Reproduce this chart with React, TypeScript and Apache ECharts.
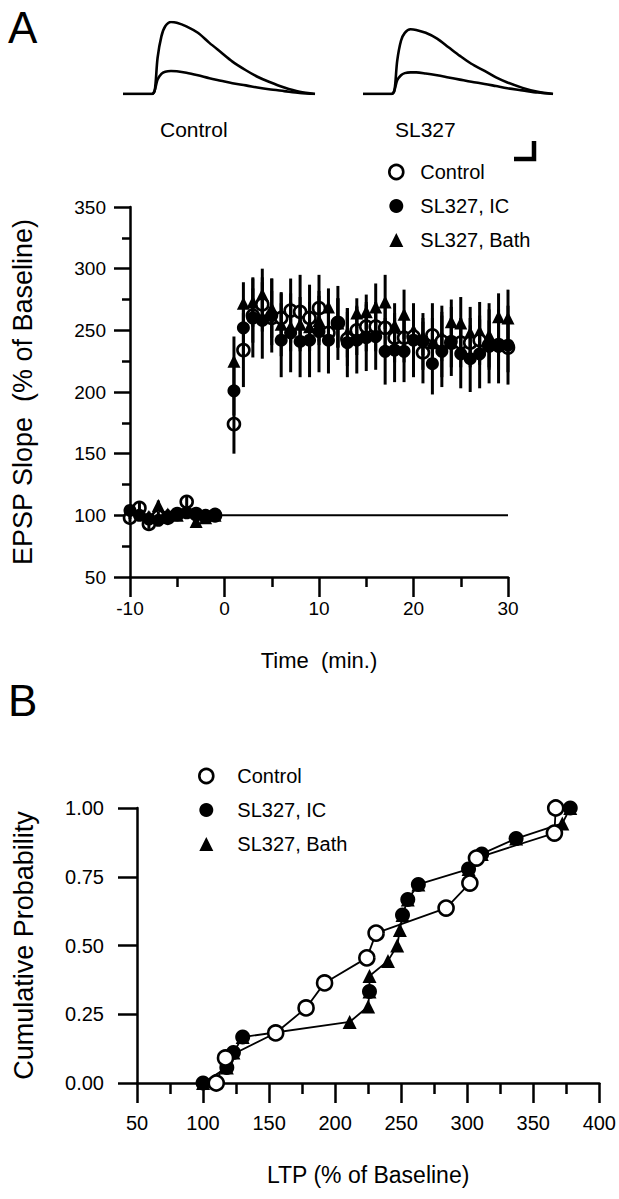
import React, { useEffect, useRef } from "react";
import * as echarts from "echarts";

const FONT = "'Liberation Sans', Arial, Helvetica, sans-serif";

// ---------- Panel A: time course ----------
const minutes = [
  -10, -9, -8, -7, -6, -5, -4, -3, -2, -1,
  1, 2, 3, 4, 5, 6, 7, 8, 9, 10, 11, 12, 13, 14, 15, 16, 17, 18, 19, 20,
  21, 22, 23, 24, 25, 26, 27, 28, 29, 30,
];
const controlMean = [
  98, 106, 93, 99, 98, 101, 111, 101, 99, 100,
  174, 234, 262, 271, 260, 260, 266, 265, 260, 268, 248, 256, 243, 250, 253, 253, 252, 244, 244, 245,
  232, 246, 241, 240, 240, 240, 242, 238, 238, 236,
];
const controlSem = [
  4, 4, 4, 4, 4, 4, 4, 4, 4, 4,
  24, 30, 22, 22, 22, 20, 26, 30, 27, 27, 22, 20, 22, 20, 20, 20, 20, 20, 20, 24,
  25, 26, 29, 20, 20, 20, 20, 20, 20, 20,
];
const icMean = [
  104, 100, 97, 96, 99, 101, 102, 101, 100, 101,
  201, 252, 260, 258, 262, 242, 248, 241, 242, 249, 242, 256, 240, 242, 244, 245, 233, 234, 233, 242,
  241, 223, 233, 241, 231, 227, 231, 237, 237, 238,
];
const icSem = [
  4, 4, 4, 4, 4, 4, 4, 4, 4, 4,
  20, 22, 32, 31, 30, 30, 32, 29, 30, 33, 27, 30, 28, 27, 27, 27, 27, 26, 25, 30,
  23, 25, 29, 28, 28, 27, 28, 30, 30, 32,
];
const bathMean = [
  101, 101, 99, 108, 101, 100, 103, 95, 98, 100,
  225, 272, 273, 279, 268, 255, 253, 255, 253, 258, 269, 256, 248, 264, 265, 269, 273, 254, 263, 250,
  245, 240, 245, 257, 256, 248, 249, 246, 261, 260,
];
const bathSem = [
  4, 4, 4, 4, 4, 4, 4, 4, 4, 4,
  20, 17, 20, 21, 24, 26, 20, 22, 20, 20, 15, 20, 20, 12, 14, 19, 22, 18, 20, 19,
  15, 20, 20, 18, 21, 21, 24, 26, 19, 23,
];
const baselineLevel = [[-10, 100], [30, 100]];
const timeTicks = { min: -10, max: 30, step: 10 };
const slopeTicks = { min: 50, max: 350, step: 50 };

// ---------- Example EPSP traces ----------
const traceTime = [0, 8, 15, 16.5, 18, 20, 22, 25, 28, 33, 39, 45, 51, 57, 64, 70, 76, 84, 92, 100];
const controlLarge = [0, 0, 0, 0.4, 5.0, 8.0, 9.4, 10, 9.9, 9.4, 8.5, 7.1, 5.8, 4.5, 3.3, 2.4, 1.7, 0.9, 0.3, 0];
const controlSmall = [0, 0, 0, 0.5, 2.0, 2.8, 3.1, 3.2, 3.15, 2.95, 2.6, 2.2, 1.85, 1.5, 1.2, 0.9, 0.65, 0.4, 0.15, 0];
const slLarge = [0, 0, 0, 0.4, 4.6, 7.4, 8.5, 9.0, 8.9, 8.5, 7.7, 6.5, 5.3, 4.2, 3.2, 2.3, 1.6, 0.85, 0.3, 0];
const slSmall = [0, 0, 0, 0.5, 1.9, 2.6, 2.9, 3.0, 3.0, 2.85, 2.6, 2.3, 2.0, 1.7, 1.4, 1.1, 0.8, 0.5, 0.2, 0];

// ---------- Panel B: cumulative distributions ----------
const cumControl = [
  [110, 0], [117, 0.091], [155, 0.182], [178, 0.273], [192, 0.364], [224, 0.455],
  [231, 0.545], [284, 0.636], [302, 0.727], [307, 0.818], [366, 0.909], [367, 1.0],
];
const cumIC = [
  [100, 0], [118, 0.056], [123, 0.111], [130, 0.167], [226, 0.333], [251, 0.611],
  [255, 0.667], [263, 0.722], [301, 0.778], [311, 0.833], [337, 0.889], [378, 1.0],
];
const cumBath = [
  [100, 0], [118, 0.056], [123, 0.111], [130, 0.167], [211, 0.222], [225, 0.278],
  [226, 0.333], [226, 0.389], [240, 0.444], [247, 0.5], [249, 0.556], [251, 0.611],
  [255, 0.667], [263, 0.722], [301, 0.778], [311, 0.833], [337, 0.889], [372, 0.944], [378, 1.0],
];
const ltpTicks = { min: 50, max: 400, step: 50 };
const probTicks = { min: 0, max: 1, step: 0.25 };

const names = ["Control", "SL327, IC", "SL327, Bath"];

function zip(x: number[], y: number[], e?: number[]) {
  return x.map((v, i) => (e ? [v, y[i], e[i]] : [v, y[i]]));
}

export default function App() {
  const ref = useRef<HTMLDivElement>(null);
  useEffect(() => {
    document.body.style.margin = "0";
    if (!ref.current) return;
    const chart = echarts.init(ref.current, undefined, { renderer: "svg" });

    const black = "#000";
    const txt = { color: black, fontFamily: FONT };
    const hidden = { show: false };

    const errRender = (params: any, api: any) => {
      const x = api.value(0);
      const y = api.value(1);
      const e = api.value(2);
      const p1 = api.coord([x, y - e]);
      const p2 = api.coord([x, y + e]);
      return {
        type: "line",
        shape: { x1: p1[0], y1: p1[1], x2: p2[0], y2: p2[1] },
        style: { stroke: black, lineWidth: 3 },
      };
    };

    const openStyle = { color: "#fff", borderColor: black, borderWidth: 2.6, opacity: 1 };
    const fillStyle = { color: black, borderColor: black, borderWidth: 0, opacity: 1 };

    const traceSeries = (grid: number, y: number[]) => ({
      type: "line",
      xAxisIndex: grid,
      yAxisIndex: grid,
      data: zip(traceTime, y),
      showSymbol: false,
      smooth: 0.3,
      lineStyle: { color: black, width: 2.6 },
      silent: true,
    });

    const legendData = [
      { name: names[0], icon: "circle", itemStyle: openStyle },
      { name: names[1], icon: "circle", itemStyle: fillStyle },
      { name: names[2], icon: "triangle", itemStyle: fillStyle },
    ];

    const option: any = {
      animation: false,
      backgroundColor: "#fff",
      textStyle: { fontFamily: FONT },
      grid: [
        { left: 123, top: 22, width: 192, height: 72 },
        { left: 363, top: 22, width: 190, height: 72 },
        { left: 130, top: 207, width: 378, height: 370 },
        { left: 137, top: 808, width: 465, height: 275 },
      ],
      xAxis: [
        { gridIndex: 0, type: "value", min: 0, max: 100, show: false },
        { gridIndex: 1, type: "value", min: 0, max: 100, show: false },
        {
          gridIndex: 2,
          type: "value",
          min: timeTicks.min,
          max: timeTicks.max,
          interval: timeTicks.step,
          axisLine: { lineStyle: { color: black, width: 2.5 } },
          axisTick: { length: 20, lineStyle: { color: black, width: 2.5 } },
          minorTick: { show: true, splitNumber: 2, length: 10, lineStyle: { color: black, width: 2.5 } },
          splitLine: hidden,
          axisLabel: { ...txt, fontSize: 19, margin: 22 },
          name: "Time  (min.)",
          nameLocation: "middle",
          nameGap: 72,
          nameTextStyle: { ...txt, fontSize: 22 },
        },
        {
          gridIndex: 3,
          type: "value",
          min: ltpTicks.min,
          max: ltpTicks.max,
          interval: ltpTicks.step,
          axisLine: { onZero: false, lineStyle: { color: black, width: 2.5 } },
          axisTick: { length: 20, lineStyle: { color: black, width: 2.5 } },
          minorTick: { show: true, splitNumber: 2, length: 11, lineStyle: { color: black, width: 2.5 } },
          splitLine: hidden,
          axisLabel: { ...txt, fontSize: 20, margin: 30 },
          name: "LTP (% of Baseline)",
          nameLocation: "middle",
          nameGap: 80,
          nameTextStyle: { ...txt, fontSize: 23 },
        },
      ],
      yAxis: [
        { gridIndex: 0, type: "value", min: 0, max: 10, show: false },
        { gridIndex: 1, type: "value", min: 0, max: 10, show: false },
        {
          gridIndex: 2,
          type: "value",
          min: slopeTicks.min,
          max: slopeTicks.max,
          interval: slopeTicks.step,
          axisLine: { show: true, onZero: false, lineStyle: { color: black, width: 2.5 } },
          axisTick: { show: true, length: 16, lineStyle: { color: black, width: 2.5 } },
          minorTick: { show: true, splitNumber: 2, length: 8, lineStyle: { color: black, width: 2.5 } },
          splitLine: hidden,
          axisLabel: { ...txt, fontSize: 19, margin: 24 },
          name: "EPSP Slope  (% of Baseline)",
          nameLocation: "middle",
          nameRotate: 90,
          nameGap: 94,
          nameTextStyle: { ...txt, fontSize: 27 },
        },
        {
          gridIndex: 3,
          type: "value",
          min: probTicks.min,
          max: probTicks.max,
          interval: probTicks.step,
          axisLine: { show: true, onZero: false, lineStyle: { color: black, width: 2.5 } },
          axisTick: { show: true, length: 19, lineStyle: { color: black, width: 2.5 } },
          splitLine: hidden,
          axisLabel: { ...txt, fontSize: 20, margin: 33, formatter: (v: number) => v.toFixed(2) },
          name: "Cumulative Probability",
          nameLocation: "middle",
          nameRotate: 90,
          nameGap: 100,
          nameTextStyle: { ...txt, fontSize: 27 },
        },
      ],
      legend: [
        {
          orient: "vertical",
          left: 383,
          top: 157,
          itemWidth: 14,
          itemHeight: 14,
          itemGap: 14,
          selectedMode: false,
          textStyle: { ...txt, fontSize: 20, padding: [0, 0, 0, 12] },
          data: legendData,
        },
        {
          orient: "vertical",
          left: 193,
          top: 761,
          itemWidth: 14,
          itemHeight: 14,
          itemGap: 14,
          selectedMode: false,
          textStyle: { ...txt, fontSize: 20, padding: [0, 0, 0, 19] },
          data: legendData,
        },
      ],
      graphic: [
        { type: "text", left: 8, top: 5, style: { text: "A", fontSize: 44, fontFamily: FONT, fill: black } },
        { type: "text", left: 8, top: 678, style: { text: "B", fontSize: 44, fontFamily: FONT, fill: black } },
        { type: "text", left: 160, top: 119, style: { text: "Control", fontSize: 21, fontFamily: FONT, fill: black } },
        { type: "text", left: 395, top: 119, style: { text: "SL327", fontSize: 21, fontFamily: FONT, fill: black } },
        {
          type: "polyline",
          shape: { points: [[514, 159], [534, 159], [534, 141]] },
          style: { stroke: black, lineWidth: 4.5, fill: "none" },
        },
      ],
      series: [
        traceSeries(0, controlLarge),
        traceSeries(0, controlSmall),
        traceSeries(1, slLarge),
        traceSeries(1, slSmall),
        {
          type: "line",
          xAxisIndex: 2,
          yAxisIndex: 2,
          data: baselineLevel,
          showSymbol: false,
          lineStyle: { color: black, width: 2 },
          silent: true,
          z: 1,
        },
        {
          name: names[2],
          type: "scatter",
          xAxisIndex: 2,
          yAxisIndex: 2,
          data: zip(minutes, bathMean),
          symbol: "triangle",
          symbolSize: 13,
          itemStyle: fillStyle,
          z: 3,
        },
        {
          name: names[0],
          type: "scatter",
          xAxisIndex: 2,
          yAxisIndex: 2,
          data: zip(minutes, controlMean),
          symbol: "circle",
          symbolSize: 12,
          itemStyle: openStyle,
          z: 4,
        },
        {
          name: names[1],
          type: "scatter",
          xAxisIndex: 2,
          yAxisIndex: 2,
          data: zip(minutes, icMean),
          symbol: "circle",
          symbolSize: 13,
          itemStyle: fillStyle,
          z: 5,
        },
        ...[
          [controlMean, controlSem],
          [icMean, icSem],
          [bathMean, bathSem],
        ].map(([m, s], i) => ({
          name: "err" + i,
          type: "custom",
          xAxisIndex: 2,
          yAxisIndex: 2,
          data: zip(minutes, m, s),
          renderItem: errRender,
          encode: { x: 0, y: 1 },
          z: 6,
          silent: true,
        })),
        {
          name: names[2],
          type: "line",
          xAxisIndex: 3,
          yAxisIndex: 3,
          data: cumBath,
          symbol: "triangle",
          symbolSize: 14,
          showAllSymbol: true,
          itemStyle: fillStyle,
          lineStyle: { color: black, width: 1.8 },
          z: 3,
        },
        {
          name: names[1],
          type: "scatter",
          xAxisIndex: 3,
          yAxisIndex: 3,
          data: cumIC,
          symbol: "circle",
          symbolSize: 15,
          itemStyle: fillStyle,
          z: 4,
        },
        {
          name: names[0],
          type: "line",
          xAxisIndex: 3,
          yAxisIndex: 3,
          data: cumControl,
          symbol: "circle",
          symbolSize: 15,
          showAllSymbol: true,
          itemStyle: openStyle,
          lineStyle: { color: black, width: 1.8 },
          z: 5,
        },
      ],
    };
    chart.setOption(option);
    return () => chart.dispose();
  }, []);

  return <div ref={ref} style={{ width: 619, height: 1199 }} />;
}
